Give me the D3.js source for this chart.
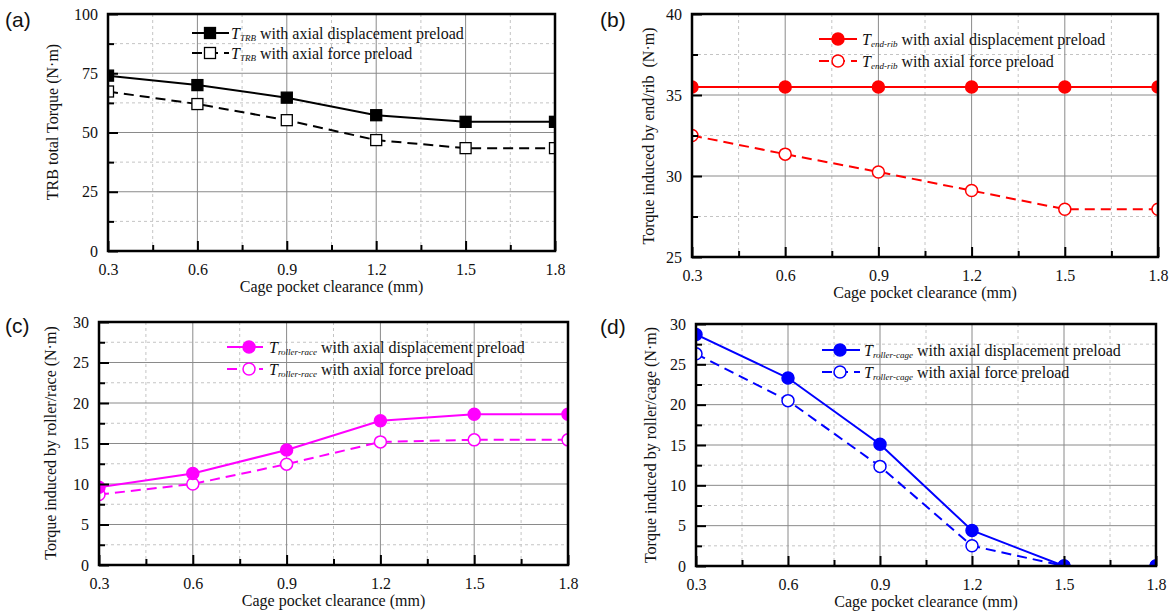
<!DOCTYPE html>
<html>
<head>
<meta charset="utf-8">
<script src="https://cdn.jsdelivr.net/npm/d3@7"></script>
<style>
  html, body { margin: 0; padding: 0; background: #fff; }
  svg { display: block; }
  text { fill: #111; }
</style>
</head>
<body>
<svg id="chart" width="1174" height="613"></svg>
<script>
// Cage pocket clearance (mm)
const clearance = [0.3, 0.6, 0.9, 1.2, 1.5, 1.8];
const xTickValues = [0.3, 0.6, 0.9, 1.2, 1.5, 1.8];

// (a) TRB total torque (N·m)
const trbDisplacement = [74.0, 70.0, 64.7, 57.3, 54.5, 54.5];
const trbForce = [67.3, 62.0, 55.2, 46.8, 43.4, 43.4];
const yTicksA = [0, 25, 50, 75, 100];

// (b) Torque induced by end/rib (N·m)
const ribDisplacement = [35.5, 35.5, 35.5, 35.5, 35.5, 35.5];
const ribForce = [32.5, 31.35, 30.25, 29.1, 27.95, 27.95];
const yTicksB = [25, 30, 35, 40];

// (c) Torque induced by roller/race (N·m)
const raceDisplacement = [9.6, 11.3, 14.2, 17.8, 18.6, 18.6];
const raceForce = [8.7, 10.0, 12.45, 15.2, 15.45, 15.45];
const yTicksC = [0, 5, 10, 15, 20, 25, 30];

// (d) Torque induced by roller/cage (N·m)
const cageDisplacement = [28.7, 23.3, 15.1, 4.4, 0, 0];
const cageForce = [26.3, 20.5, 12.35, 2.5, 0, 0];
const yTicksD = [0, 5, 10, 15, 20, 25, 30];

const panelLetters = ["(a)", "(b)", "(c)", "(d)"];
const subscripts = ["TRB", "end-rib", "roller-race", "roller-cage"];
const yTitles = [
  "TRB total Torque (N\u00b7m)",
  "Torque induced by end/rib  (N\u00b7m)",
  "Torque induced by roller/race (N\u00b7m)",
  "Torque induced by roller/cage (N\u00b7m)"
];
const xTitle = "Cage pocket clearance (mm)";
const legendTails = ["with axial displacement preload", "with axial force preload"];

const svg = d3.select("#chart");
const SERIF = "'Liberation Serif', 'Times New Roman', serif";
const SANS = "'Liberation Sans', Arial, sans-serif";

const panels = [
  { box: [108, 555, 14, 251], yTicks: yTicksA, solid: trbDisplacement, dashed: trbForce,
    color: "#000000", marker: "square", letter: [5, 27], yTitleX: 58, yTitleY: 122,
    legend: [192, 229, 210, 231, 33, 53] },
  { box: [692, 1158, 14, 257], yTicks: yTicksB, solid: ribDisplacement, dashed: ribForce,
    color: "#ff0000", marker: "circle", letter: [600, 27], yTitleX: 654, yTitleY: 136,
    legend: [819, 857, 838, 862, 39, 61] },
  { box: [99, 568, 322, 565], yTicks: yTicksC, solid: raceDisplacement, dashed: raceForce,
    color: "#ff00ff", marker: "circle", letter: [5, 333], yTitleX: 56, yTitleY: 443,
    legend: [227, 263, 249, 269, 347, 369] },
  { box: [696, 1156, 324, 566], yTicks: yTicksD, solid: cageDisplacement, dashed: cageForce,
    color: "#0000ff", marker: "circle", letter: [600, 334], yTitleX: 656, yTitleY: 445,
    legend: [822, 860, 840, 864, 350, 372] }
];

function drawMarker(sel, shape, cx, cy, color, filled) {
  if (shape === "square") {
    sel.append("rect")
      .attr("x", cx - 5.5).attr("y", cy - 5.5)
      .attr("width", 11).attr("height", 11)
      .attr("fill", filled ? color : "#fff")
      .attr("stroke", color).attr("stroke-width", 1.3);
  } else {
    sel.append("circle")
      .attr("cx", cx).attr("cy", cy).attr("r", 6)
      .attr("fill", filled ? color : "#fff")
      .attr("stroke", color).attr("stroke-width", 1.5);
  }
}

panels.forEach((p, i) => {
  const [x0, x1, y0, y1] = p.box;
  const x = d3.scaleLinear().domain([0.3, 1.8]).range([x0, x1]);
  const yd = d3.extent(p.yTicks);
  const y = d3.scaleLinear().domain(yd).range([y1, y0]);
  const step = p.yTicks[1] - p.yTicks[0];
  const yMinor = p.yTicks.slice(0, -1).map(v => v + step / 2);
  const xMinor = xTickValues.slice(0, -1).map(v => v + 0.15);

  const g = svg.append("g");

  // minor grid (dashed)
  const gridMinor = g.append("g").attr("stroke", "#c4c4c4").attr("stroke-width", 1)
    .attr("stroke-dasharray", "3,3");
  xMinor.forEach(v => gridMinor.append("line")
    .attr("x1", x(v)).attr("x2", x(v)).attr("y1", y0).attr("y2", y1));
  yMinor.forEach(v => gridMinor.append("line")
    .attr("x1", x0).attr("x2", x1).attr("y1", y(v)).attr("y2", y(v)));

  // major grid (solid)
  const gridMajor = g.append("g").attr("stroke", "#8a8a8a").attr("stroke-width", 1);
  xTickValues.slice(1, -1).forEach(v => gridMajor.append("line")
    .attr("x1", x(v)).attr("x2", x(v)).attr("y1", y0).attr("y2", y1));
  p.yTicks.slice(1, -1).forEach(v => gridMajor.append("line")
    .attr("x1", x0).attr("x2", x1).attr("y1", y(v)).attr("y2", y(v)));

  // clip region for the data
  const clipId = "clip" + i;
  svg.append("clipPath").attr("id", clipId).append("rect")
    .attr("x", x0).attr("y", y0).attr("width", x1 - x0).attr("height", y1 - y0);
  const data = g.append("g").attr("clip-path", `url(#${clipId})`);

  const line = d3.line().x((d, k) => x(clearance[k])).y(d => y(d));

  data.append("path").datum(p.dashed)
    .attr("d", line).attr("fill", "none")
    .attr("stroke", p.color).attr("stroke-width", 2)
    .attr("stroke-dasharray", "10,6");
  data.append("path").datum(p.solid)
    .attr("d", line).attr("fill", "none")
    .attr("stroke", p.color).attr("stroke-width", 2);

  p.dashed.forEach((v, k) => drawMarker(data, p.marker, x(clearance[k]), y(v), p.color, false));
  p.solid.forEach((v, k) => drawMarker(data, p.marker, x(clearance[k]), y(v), p.color, true));

  // axes: inward ticks on the bottom and left
  const xAxis = g.append("g").attr("transform", `translate(0,${y1})`)
    .call(d3.axisBottom(x).tickValues(xTickValues).tickSizeInner(-10).tickSizeOuter(0)
      .tickPadding(13).tickFormat(d3.format(".1f")));
  g.append("g").attr("transform", `translate(0,${y1})`)
    .call(d3.axisBottom(x).tickValues(xMinor).tickSizeInner(-6).tickSizeOuter(0).tickFormat(""));
  const yAxis = g.append("g").attr("transform", `translate(${x0},0)`)
    .call(d3.axisLeft(y).tickValues(p.yTicks).tickSizeInner(-10).tickSizeOuter(0)
      .tickPadding(10).tickFormat(d3.format("d")));
  g.append("g").attr("transform", `translate(${x0},0)`)
    .call(d3.axisLeft(y).tickValues(yMinor).tickSizeInner(-6).tickSizeOuter(0).tickFormat(""));

  g.selectAll(".domain").remove();
  g.selectAll(".tick line").attr("stroke", "#000").attr("stroke-width", 2);
  g.selectAll(".tick text").attr("font-family", SERIF).attr("font-size", 16).attr("fill", "#111");

  // frame
  g.append("rect").attr("x", x0).attr("y", y0)
    .attr("width", x1 - x0).attr("height", y1 - y0)
    .attr("fill", "none").attr("stroke", "#000").attr("stroke-width", 2.5);

  // axis titles
  g.append("text").attr("x", (x0 + x1) / 2).attr("y", y1 + 41)
    .attr("text-anchor", "middle").attr("font-family", SERIF).attr("font-size", 16)
    .text(xTitle);
  g.append("text")
    .attr("transform", `translate(${p.yTitleX},${p.yTitleY}) rotate(-90)`)
    .attr("text-anchor", "middle").attr("font-family", SERIF).attr("font-size", 16)
    .style("white-space", "pre")
    .text(yTitles[i]);

  // panel letter
  svg.append("text").attr("x", p.letter[0]).attr("y", p.letter[1])
    .attr("font-family", SANS).attr("font-size", 21).text(panelLetters[i]);

  // legend
  const [lx0, lx1, mx, tx, r1, r2] = p.legend;
  const lg = g.append("g");
  [[r1, true], [r2, false]].forEach(([ry, filled], k) => {
    const seg = lg.append("line").attr("x1", lx0).attr("x2", lx1).attr("y1", ry).attr("y2", ry)
      .attr("stroke", p.color).attr("stroke-width", 2);
    if (!filled) seg.attr("stroke-dasharray", "10,6");
    drawMarker(lg, p.marker, mx, ry, p.color, filled);
    const t = lg.append("text").attr("x", tx).attr("y", ry + 5.5)
      .attr("font-family", SERIF).attr("font-size", 16);
    t.append("tspan").attr("font-style", "italic").text("T");
    t.append("tspan").attr("font-style", "italic").attr("font-size", 9).attr("dy", 2)
      .text(subscripts[i]);
    t.append("tspan").attr("dy", -2).text(" " + legendTails[k]);
  });
});
</script>
</body>
</html>
